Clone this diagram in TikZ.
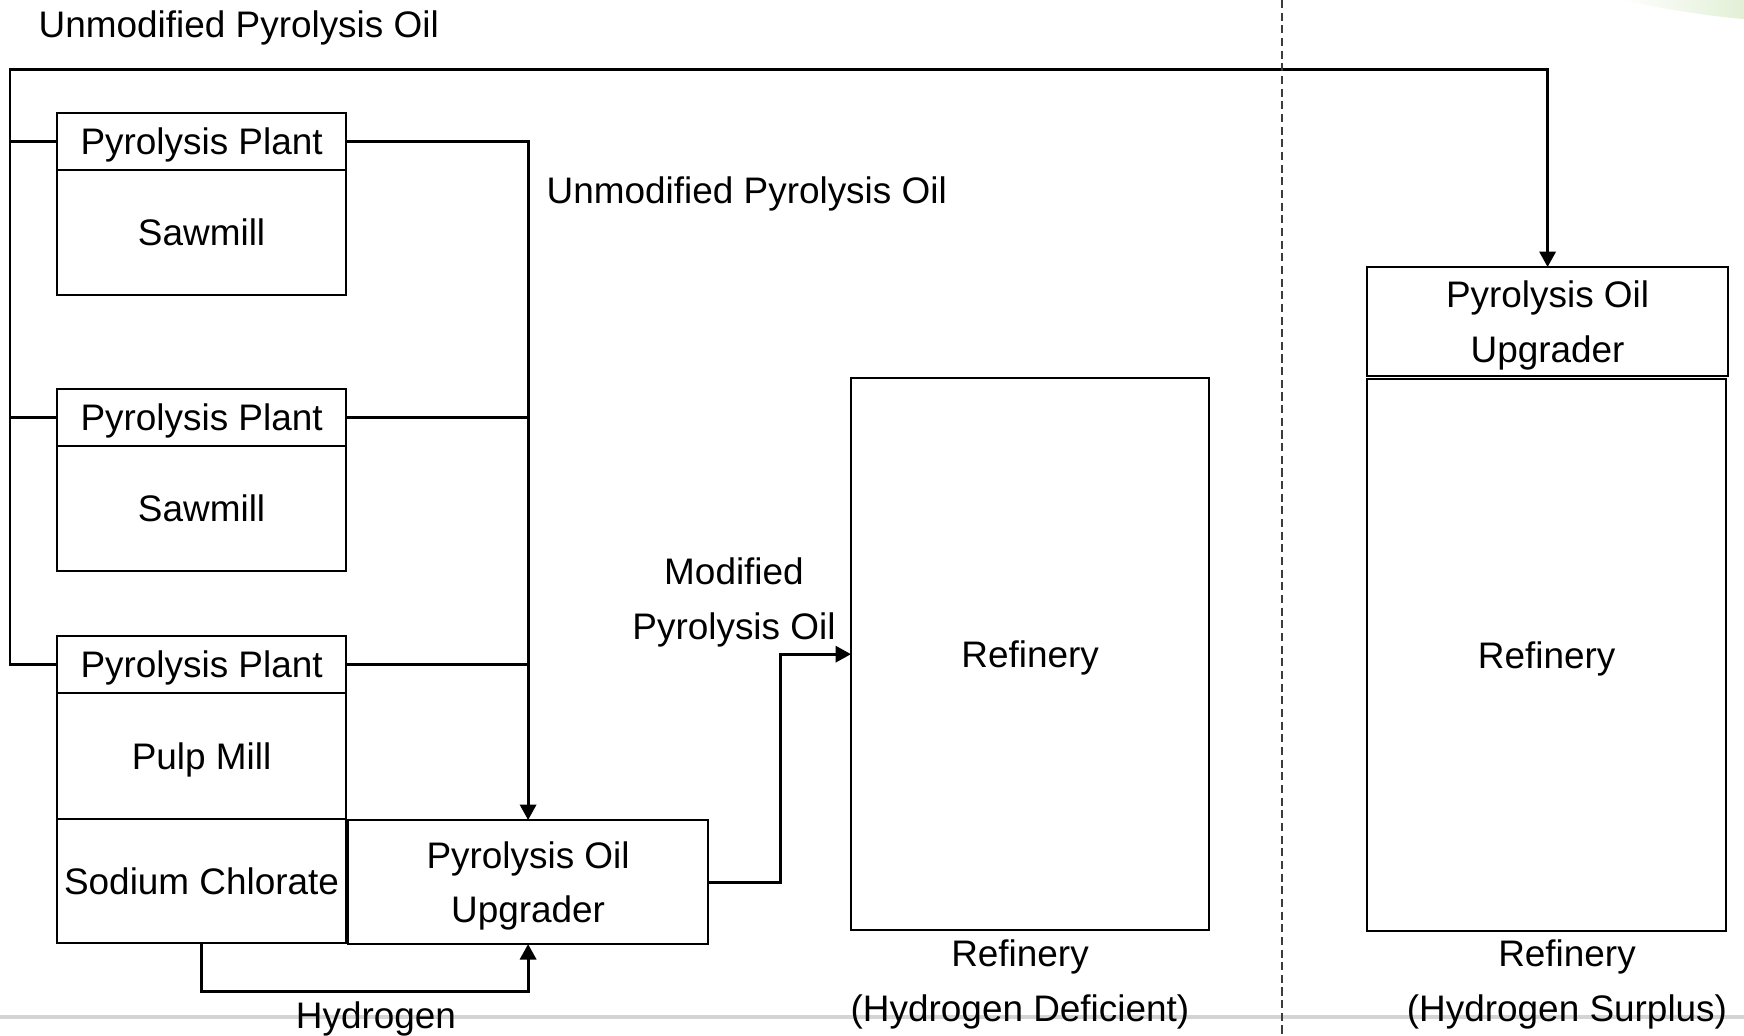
\documentclass[tikz,border=0pt]{standalone}
\usepackage{fontspec}
\setmainfont{Liberation Sans}
\usepackage{xcolor}
\usepackage{tikz}
\usetikzlibrary{arrows.meta,positioning}
\definecolor{tinta}{HTML}{000000}
\definecolor{raya}{HTML}{3C3C3C}
\definecolor{borde}{HTML}{D4D4D4}
\definecolor{hoja}{HTML}{E2F0D6}

\begin{document}
\begin{tikzpicture}[x=0.01cm,y=-0.01cm,
    caja/.style={draw=tinta,line width=0.6pt,minimum width=2.89cm,inner sep=0pt,
                 outer sep=0pt,align=center,text depth=0pt,
                 font=\fontsize{10.5}{15.6}\selectfont},
    rotulo/.style={align=center,inner sep=0pt,text depth=0pt,
                   font=\fontsize{10.5}{15.6}\selectfont},
    flujo/.style={draw=tinta,line width=0.85pt},
    >={Triangle[length=4.4pt,width=4.6pt]}]
  \useasboundingbox (0,0) rectangle (1744,1035);
  \draw[borde,line width=1.2pt] (0,1017) -- (1744,1017);
  \shade[left color=white,right color=hoja] (1620,0) .. controls (1670,10) and (1715,17) .. (1744,19) -- (1744,0) -- cycle;
  \node[caja,minimum height=0.57cm,anchor=north west] (pp1) at (57,113) {Pyrolysis Plant};
  \node[caja,minimum height=1.25cm,below=0pt of pp1] (saw1) {Sawmill};
  \node[caja,minimum height=0.57cm,anchor=north west] (pp2) at (57,389) {Pyrolysis Plant};
  \node[caja,minimum height=1.25cm,below=0pt of pp2] (saw2) {Sawmill};
  \node[caja,minimum height=0.57cm,anchor=north west] (pp3) at (57,636) {Pyrolysis Plant};
  \node[caja,minimum height=1.26cm,below=0pt of pp3] (pulp) {Pulp Mill};
  \node[caja,minimum height=1.24cm,below=0pt of pulp] (sodio) {Sodium Chlorate};
  \node[caja,minimum width=3.6cm,minimum height=1.24cm,anchor=north west] (upg1) at (348,820)
    {Pyrolysis Oil\\Upgrader};
  \node[caja,minimum width=3.58cm,minimum height=5.52cm,anchor=north west] (ref1) at (851,378) {Refinery};
  \node[caja,minimum width=3.61cm,minimum height=1.09cm,anchor=north west] (upg2) at (1367,267)
    {Pyrolysis Oil\\Upgrader};
  \node[caja,minimum width=3.59cm,minimum height=5.52cm,anchor=north west] (ref2) at (1367,379) {Refinery};
  \coordinate (bus) at (10,69);
  \draw[flujo,->] (pp3.west) -| (bus) -| (upg2.north);
  \draw[flujo] (pp1.west) -- (pp1.west -| bus);
  \draw[flujo] (pp2.west) -- (pp2.west -| bus);
  \draw[flujo,->] (pp1.east) -| (upg1.north);
  \draw[flujo] (pp2.east) -- (pp2.east -| upg1.north);
  \draw[flujo] (pp3.east) -- (pp3.east -| upg1.north);
  \draw[flujo,->] (upg1.east) -- ++(72,0) |- (ref1.west);
  \draw[flujo,->] (sodio.south) -- ++(0,48) -| (upg1.south);
  \draw[raya,line width=0.4pt,dash pattern=on 2.3pt off 1.3pt] (1282,0) -- (1282,1035);
  \node[rotulo,anchor=west] (sinmod) at (38,24) {Unmodified Pyrolysis Oil};
  \node[rotulo,anchor=west] (sinmod2) at (546,190) {Unmodified Pyrolysis Oil};
  \node[rotulo] (mod) at (734,599) {Modified\\Pyrolysis Oil};
  \node[rotulo] (hidro) at (376,1015) {Hydrogen};
  \node[rotulo] (def) at (1020,981) {Refinery\\(Hydrogen Deficient)};
  \node[rotulo] (sup) at (1567,981) {Refinery\\(Hydrogen Surplus)};
\end{tikzpicture}
\end{document}
